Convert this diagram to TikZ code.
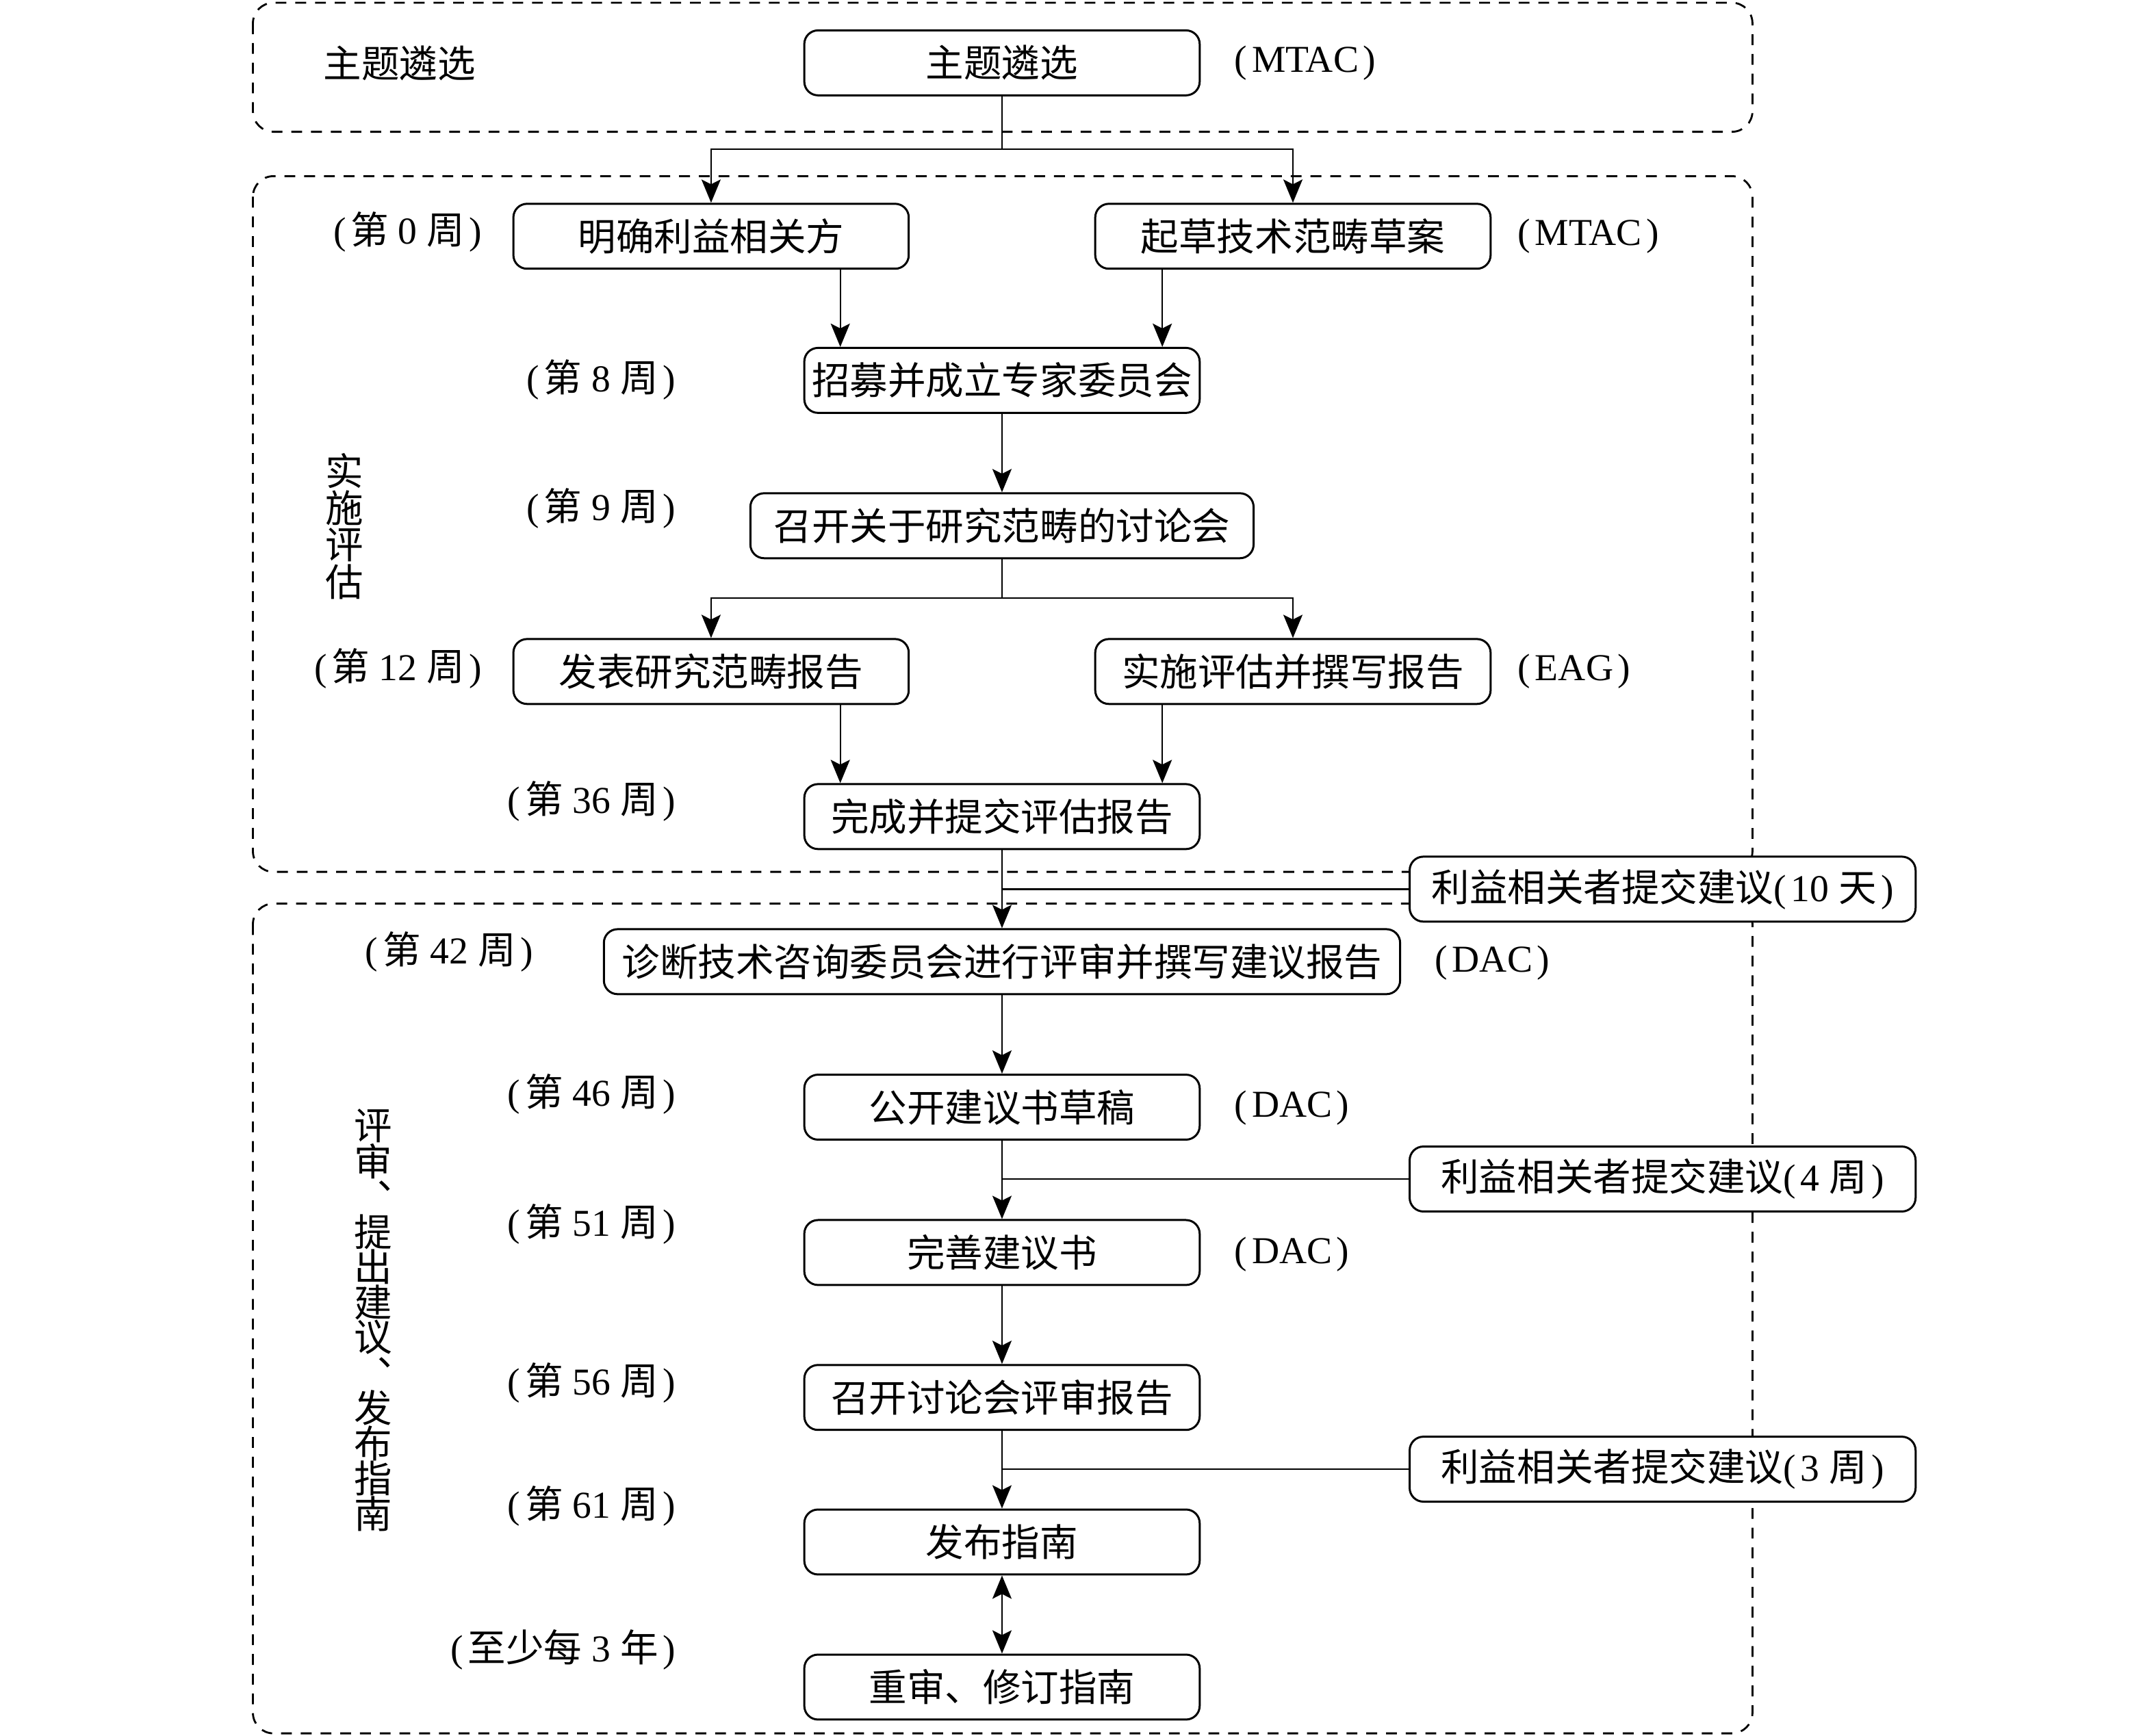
\documentclass[tikz,border=0pt]{standalone}
\usepackage{fontspec}
\setmainfont{Liberation Serif}
\newfontfamily\cjk{Noto Sans CJK SC}
\usetikzlibrary{arrows.meta,calc}
\newcommand{\lpar}{(\hspace{0.12em}}
\newcommand{\rpar}{\hspace{0.12em})}
\begin{document}
\begin{tikzpicture}[x=0.0201923cm, y=-0.0201923cm,
  font=\fontsize{15.8pt}{19pt}\selectfont,
  box/.style={draw, line width=0.85pt, rounded corners=0.2cm, fill=white,
    minimum width=5.775cm, minimum height=0.949cm, inner sep=0pt, align=center},
  widebox/.style={box, minimum width=7.35cm},
  hugebox/.style={box, minimum width=11.63cm},
  sidebox/.style={box, minimum width=7.39cm},
  frame/.style={line width=0.8pt, dash pattern=on 4.5pt off 3.7pt, rounded corners=0.3cm},
  conn/.style={line width=0.65pt},
  arr/.style={conn, -{Stealth[length=0.34cm,width=0.28cm,inset=0.07cm]}},
  dbl/.style={conn, {Stealth[length=0.34cm,width=0.28cm,inset=0.07cm]}-{Stealth[length=0.34cm,width=0.28cm,inset=0.07cm]}},
  lbl/.style={inner sep=0pt}]
\useasboundingbox (0,0) rectangle (1560,1256.4);
% frames
\draw[frame] (183,2) rectangle (1268,95.4);
\draw[frame] (183,127.5) rectangle (1268,631);
\draw[frame] (183,654) rectangle (1268,1254.5);
% left group labels
\node[lbl] (t0) at (289,46) {\cjk 主题遴选};
\foreach \c [count=\i] in {实,施,评,估}
  \node[lbl] (va\i) at (249,{341+26.7*(\i-1)}) {\cjk \c};
\foreach \c [count=\i] in {评,审,︑,提,出,建,议,︑,发,布,指,南}
  \node[lbl] (vb\i) at (270,{815+25.5*(\i-1)}) {\cjk \c};
% main boxes
\node[box] (tsel) at (725,45.5) {\cjk 主题遴选};
\node[box] (s1) at (514.5,171) {\cjk 明确利益相关方};
\node[box] (s2) at (935.5,171) {\cjk 起草技术范畴草案};
\node[box] (n3) at (725,275.3) {\cjk 招募并成立专家委员会};
\node[widebox] (n4) at (725,380.5) {\cjk 召开关于研究范畴的讨论会};
\node[box] (n5a) at (514.5,486) {\cjk 发表研究范畴报告};
\node[box] (n5b) at (935.5,486) {\cjk 实施评估并撰写报告};
\node[box] (n6) at (725,591) {\cjk 完成并提交评估报告};
\node[sidebox] (c1) at (1203,643.5) {{\cjk 利益相关者提交建议}\lpar 10 {\cjk 天}\rpar};
\node[hugebox] (n7) at (725,696) {\cjk 诊断技术咨询委员会进行评审并撰写建议报告};
\node[box] (n8) at (725,801.3) {\cjk 公开建议书草稿};
\node[sidebox] (c2) at (1203,853.3) {{\cjk 利益相关者提交建议}\lpar 4 {\cjk 周}\rpar};
\node[box] (n9) at (725,906.5) {\cjk 完善建议书};
\node[box] (n10) at (725,1011.4) {\cjk 召开讨论会评审报告};
\node[sidebox] (c3) at (1203,1063.3) {{\cjk 利益相关者提交建议}\lpar 3 {\cjk 周}\rpar};
\node[box] (n11) at (725,1116) {\cjk 发布指南};
\node[box] (n12) at (725,1221) {\cjk 重审、修订指南};
% time labels
\node[lbl, anchor=east] (w0) at (349,168) {\lpar{\cjk 第} 0 {\cjk 周}\rpar};
\node[lbl, anchor=east] (w8) at (489,275) {\lpar{\cjk 第} 8 {\cjk 周}\rpar};
\node[lbl, anchor=east] (w9) at (489,368) {\lpar{\cjk 第} 9 {\cjk 周}\rpar};
\node[lbl, anchor=east] (w12) at (349,484) {\lpar{\cjk 第} 12 {\cjk 周}\rpar};
\node[lbl, anchor=east] (w36) at (489,580) {\lpar{\cjk 第} 36 {\cjk 周}\rpar};
\node[lbl, anchor=east] (w42) at (386,689) {\lpar{\cjk 第} 42 {\cjk 周}\rpar};
\node[lbl, anchor=east] (w46) at (489,792) {\lpar{\cjk 第} 46 {\cjk 周}\rpar};
\node[lbl, anchor=east] (w51) at (489,886) {\lpar{\cjk 第} 51 {\cjk 周}\rpar};
\node[lbl, anchor=east] (w56) at (489,1001) {\lpar{\cjk 第} 56 {\cjk 周}\rpar};
\node[lbl, anchor=east] (w61) at (489,1090) {\lpar{\cjk 第} 61 {\cjk 周}\rpar};
\node[lbl, anchor=east] (w3y) at (489,1194) {\lpar{\cjk 至少每} 3 {\cjk 年}\rpar};
% agency labels
\node[lbl, anchor=west] (m1) at (893,45.5) {\lpar MTAC\rpar};
\node[lbl, anchor=west] (m2) at (1098,171) {\lpar MTAC\rpar};
\node[lbl, anchor=west] (eag) at (1098,486) {\lpar EAG\rpar};
\node[lbl, anchor=west] (d1) at (1038,697) {\lpar DAC\rpar};
\node[lbl, anchor=west] (d2) at (893,802) {\lpar DAC\rpar};
\node[lbl, anchor=west] (d3) at (893,908) {\lpar DAC\rpar};
% connectors
\coordinate (b1) at (725,108);
\coordinate (b2) at (725,433);
\coordinate (p1) at (608,0);
\coordinate (p2) at (841,0);
\draw[conn] (tsel.south) -- (b1);
\draw[arr] (b1) -| (s1.north);
\draw[arr] (b1) -| (s2.north);
\draw[arr] (s1.south -| p1) -- (n3.north -| p1);
\draw[arr] (s2.south -| p2) -- (n3.north -| p2);
\draw[arr] (n3.south) -- (n4.north);
\draw[conn] (n4.south) -- (b2);
\draw[arr] (b2) -| (n5a.north);
\draw[arr] (b2) -| (n5b.north);
\draw[arr] (n5a.south -| p1) -- (n6.north -| p1);
\draw[arr] (n5b.south -| p2) -- (n6.north -| p2);
\draw[arr] (n6.south) -- (n7.north);
\draw[conn] (c1.west) -- (c1.west -| n6.south);
\draw[arr] (n7.south) -- (n8.north);
\draw[arr] (n8.south) -- (n9.north);
\draw[conn] (c2.west) -- (c2.west -| n8.south);
\draw[arr] (n9.south) -- (n10.north);
\draw[arr] (n10.south) -- (n11.north);
\draw[conn] (c3.west) -- (c3.west -| n10.south);
\draw[dbl] (n11.south) -- (n12.north);
\end{tikzpicture}
\end{document}
